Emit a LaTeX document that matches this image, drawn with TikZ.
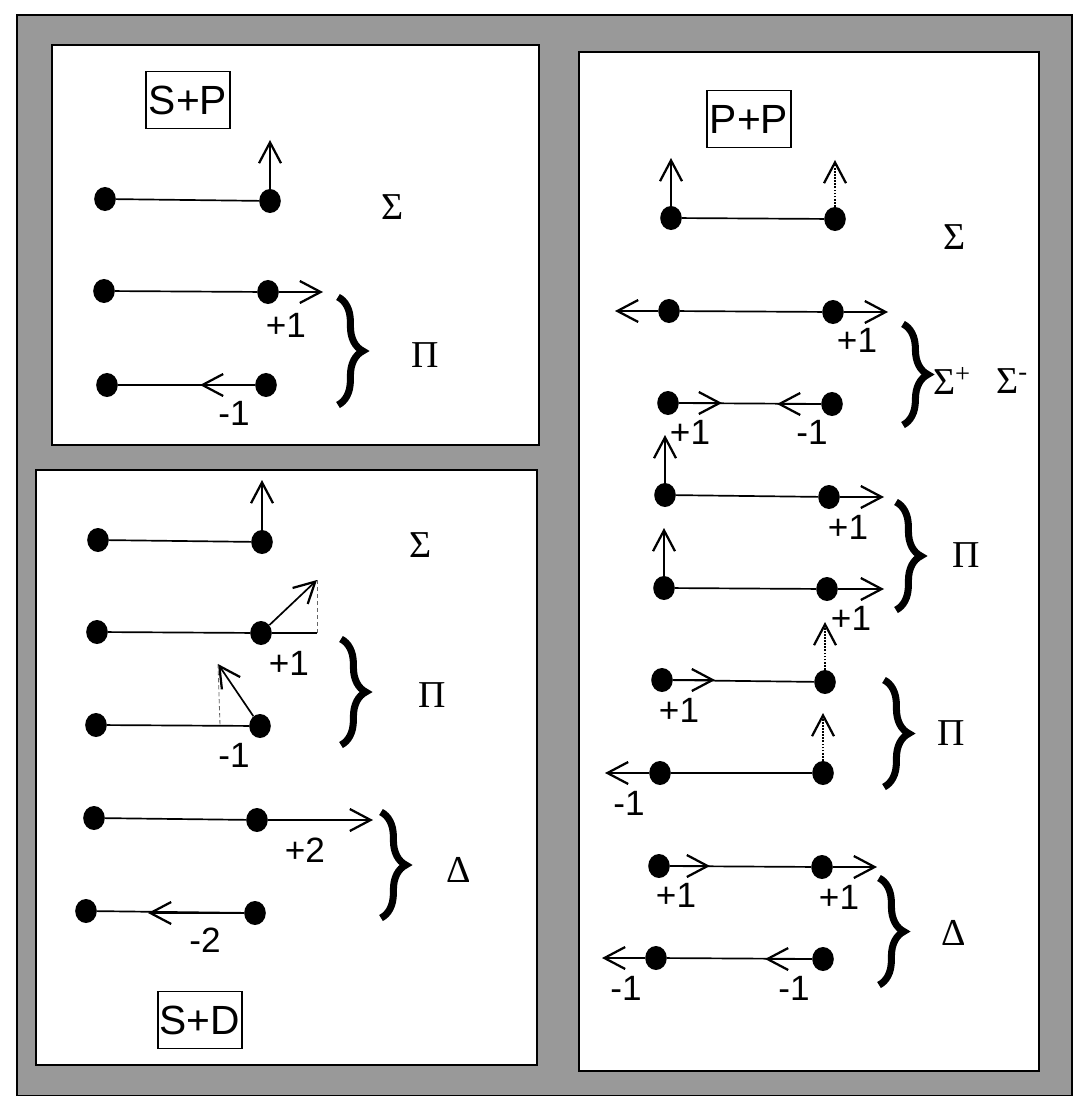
\documentclass[tikz,border=0pt]{standalone}
\usepackage{fontspec}
\setmainfont{Liberation Sans}
\newfontfamily\grkfont{Liberation Serif}
\usetikzlibrary{arrows.meta,shapes.geometric,decorations.pathreplacing,positioning}

\begin{document}
\begin{tikzpicture}[x=0.025cm, y=-0.025cm,
    panel/.style={draw=black, line width=0.9pt, fill=white},
    dot/.style={ellipse, fill=black, inner sep=0pt, minimum width=0.54cm, minimum height=0.6cm},
    bond/.style={line width=1.2pt},
    vec/.style={line width=1.2pt, -{Straight Barb[length=0.52cm, width=0.55cm, line width=1.6pt]}},
    ghost/.style={vec, densely dotted},
    proj/.style={line width=0.6pt, densely dashed, black!60},
    num/.style={font=\fontsize{25}{28}\selectfont, inner sep=0pt},
    sym/.style={font=\grkfont\fontsize{27}{30}\selectfont, inner sep=0pt},
    tag/.style={draw, line width=0.8pt, font=\fontsize{29}{32}\selectfont, minimum width=2.1cm, minimum height=1.42cm, inner sep=0pt},
    curly/.style={decorate, decoration={brace, amplitude=0.62cm, aspect=0.5}, line width=5pt}]
    \useasboundingbox (0,0) rectangle (1079,1096);
    % background and panels
    \draw[line width=0.8pt, fill=black!40] (17,15) rectangle (1072,1096);
    \draw[panel] (52,45) rectangle (539,445);
    \draw[panel] (36,470) rectangle (537,1065);
    \draw[panel] (579,52) rectangle (1039,1071);

    % S+P
    \node[tag] (sptag) at (188,100) {S+P};
    \node[dot] (spL1) at (105,199) {};
    \node[dot] (spR1) at (270,201) {};
    \node[dot] (spL2) at (104,291) {};
    \node[dot] (spR2) at (268,292) {};
    \node[dot] (spL3) at (107,385) {};
    \node[dot] (spR3) at (266,385) {};
    \coordinate (spT1) at (270,140);
    \coordinate (spT2) at (323,292);
    \coordinate (spT3) at (200,385);
    \foreach \r in {1,2,3} {
        \draw[bond] (spL\r) -- (spR\r);
        \draw[vec] (spR\r) -- (spT\r);
    }
    \node[num] (spN2) at (286,325) {+1};
    \node[num] (spN3) at (234,413) {-1};
    \node[sym] (spS) at (393,207) {Σ};
    \draw[curly] (338,297) -- (338,405);
    \node[sym] (spP) at (425,355) {Π};

    % S+D
    \node[tag] (sdtag) at (200,1020) {S+D};
    \node[dot] (sdL1) at (98,540) {};
    \node[dot] (sdR1) at (262,542) {};
    \node[dot] (sdL2) at (97,632) {};
    \node[dot] (sdR2) at (261,633) {};
    \node[dot] (sdL3) at (96,725) {};
    \node[dot] (sdR3) at (260,726) {};
    \node[dot] (sdL4) at (94,818) {};
    \node[dot] (sdR4) at (257,820) {};
    \node[dot] (sdL5) at (86,911) {};
    \node[dot] (sdR5) at (255,913) {};
    \coordinate (sdT1) at (262,480);
    \coordinate (sdT2) at (317,580);
    \coordinate (sdT3) at (218,664);
    \coordinate (sdT4) at (373,820);
    \coordinate (sdT5) at (148,913);
    \coordinate (sdE2) at (317,633);
    \coordinate (sdE3) at (220,725);
    \foreach \r in {1,...,5} {
        \draw[bond] (sdL\r) -- (sdR\r);
        \draw[vec] (sdR\r) -- (sdT\r);
    }
    \draw[bond] (sdR2) -- (sdE2);
    \draw[proj] (sdT2) -- (sdE2);
    \draw[proj] (sdT3) -- (sdE3);
    \node[num] (sdN2) at (289,663) {+1};
    \node[num] (sdN3) at (234,755) {-1};
    \node[num] (sdN4) at (305,850) {+2};
    \node[num] (sdN5) at (205,940) {-2};
    \node[sym] (sdS) at (421,545) {Σ};
    \draw[curly] (341,639) -- (341,745);
    \node[sym] (sdP) at (432,695) {Π};
    \draw[curly] (381,812) -- (381,918);
    \node[sym] (sdD) at (459,870) {Δ};

    % P+P
    \node[tag] (pptag) at (749,119) {P+P};
    \foreach \r/\xl/\yl/\xr/\yr in {1/671/218/835/219, 2/669/311/833/312, 3/668/403/832/404,
        4/665/495/829/497, 5/664/588/827/589, 6/662/680/825/682, 7/660/773/823/773,
        8/659/866/822/867, 9/656/958/823/959} {
        \node[dot] (ppL\r) at (\xl,\yl) {};
        \node[dot] (ppR\r) at (\xr,\yr) {};
        \draw[bond] (ppL\r) -- (ppR\r);
    }
    \coordinate (ppA1) at (671,158);
    \coordinate (ppA2) at (615,311);
    \coordinate (ppA3) at (722,403);
    \coordinate (ppA4) at (665,435);
    \coordinate (ppA5) at (664,528);
    \coordinate (ppA6) at (715,680);
    \coordinate (ppA7) at (605,773);
    \coordinate (ppA8) at (710,866);
    \coordinate (ppA9) at (602,958);
    \coordinate (ppB1) at (835,160);
    \coordinate (ppB2) at (888,312);
    \coordinate (ppB3) at (777,404);
    \coordinate (ppB4) at (884,497);
    \coordinate (ppB5) at (884,589);
    \coordinate (ppB6) at (825,622);
    \coordinate (ppB7) at (823,713);
    \coordinate (ppB8) at (877,867);
    \coordinate (ppB9) at (765,959);
    \foreach \r in {1,...,9}
        \draw[vec] (ppL\r) -- (ppA\r);
    \foreach \r/\s in {1/ghost,2/vec,3/vec,4/vec,5/vec,6/ghost,7/ghost,8/vec,9/vec}
        \draw[\s] (ppR\r) -- (ppB\r);
    \node[num] (ppN2) at (857,340) {+1};
    \node[num] (ppM3) at (690,432) {+1};
    \node[num] (ppN3) at (812,432) {-1};
    \node[num] (ppN4) at (848,527) {+1};
    \node[num] (ppN5) at (851,618) {+1};
    \node[num] (ppM6) at (679,710) {+1};
    \node[num] (ppM7) at (629,803) {-1};
    \node[num] (ppM8) at (676,895) {+1};
    \node[num] (ppN8) at (839,897) {+1};
    \node[num] (ppM9) at (626,988) {-1};
    \node[num] (ppN9) at (794,988) {-1};
    \node[sym] (ppS) at (955,237) {Σ};
    \draw[curly] (903,324) -- (903,425);
    \node[sym] (ppSp) at (952,381) {Σ\textsuperscript{+}};
    \node[sym] (ppSm) at (1012,381) {Σ\textsuperscript{-}};
    \draw[curly] (896,502) -- (896,610);
    \node[sym] (ppP1) at (966,555) {Π};
    \draw[curly] (884,680) -- (884,787);
    \node[sym] (ppP2) at (951,733) {Π};
    \draw[curly] (879,878) -- (879,985);
    \node[sym] (ppD) at (954,933) {Δ};
\end{tikzpicture}
\end{document}
